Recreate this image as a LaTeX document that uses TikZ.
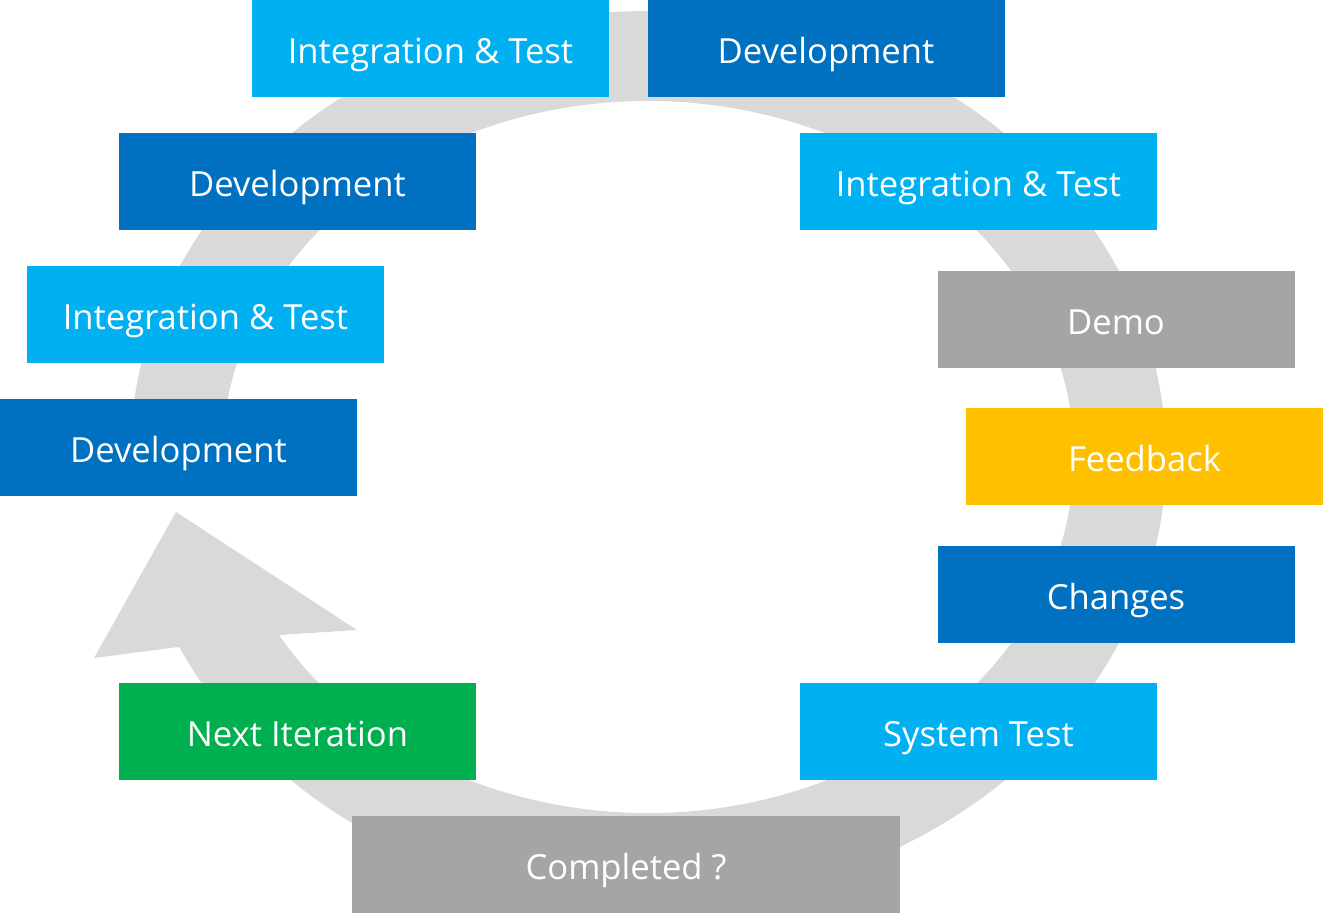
\documentclass[tikz,border=0pt]{standalone}
\usepackage{fontspec}
\setmainfont{Open Sans}
\usepackage{xcolor}
\usepackage{tikz}
\usetikzlibrary{positioning,calc}

\definecolor{azulclaro}{HTML}{00B0F0}
\definecolor{azul}{HTML}{0070C0}
\definecolor{gris}{HTML}{A5A5A5}
\definecolor{amarillo}{HTML}{FFC000}
\definecolor{verde}{HTML}{00B050}
\definecolor{anillo}{HTML}{D9D9D9}

\begin{document}
\begin{tikzpicture}[x=1pt, y=-1pt,
    caja/.style={fill=#1, text=white, inner sep=0pt, minimum width=357pt, minimum height=97pt,
        font=\fontsize{34.6}{40}\selectfont, text height=30pt, text depth=0pt}]
    \useasboundingbox (0,0) rectangle (1323,913);

    % Centro del anillo
    \coordinate (c) at (648,457);

    % Anillo con punta de flecha
    \fill[anillo] ($(c)+(175:518 and 446)$)
        arc[start angle=175, end angle=514.8, x radius=518, y radius=446]
        -- (94,658) -- (176,512) -- (357,630)
        -- ($(c)+(510:426 and 356)$)
        arc[start angle=510, end angle=175, x radius=426, y radius=356] -- cycle;

    % Cajas de las fases
    \foreach \n/\x/\y/\col/\txt in {
        it1/430.5/48.5/azulclaro/Integration \& Test,
        dev1/826/48.5/azul/Development,
        dev2/297.5/181.5/azul/Development,
        it2/978.5/181.5/azulclaro/Integration \& Test,
        it3/205.5/314.5/azulclaro/Integration \& Test,
        demo/1116/319.5/gris/Demo,
        dev3/178.5/447.5/azul/Development,
        feed/1144.5/456.5/amarillo/Feedback,
        camb/1116/594.5/azul/Changes,
        next/297.5/731.5/verde/Next Iteration,
        sys/978.5/731.5/azulclaro/System Test} {
        \node[caja=\col] (\n) at (\x,\y) {\txt};
    }

    % Caja final, mas ancha
    \node[caja=gris, minimum width=548pt] (fin) at (626,864.5) {Completed ?};

\end{tikzpicture}
\end{document}
